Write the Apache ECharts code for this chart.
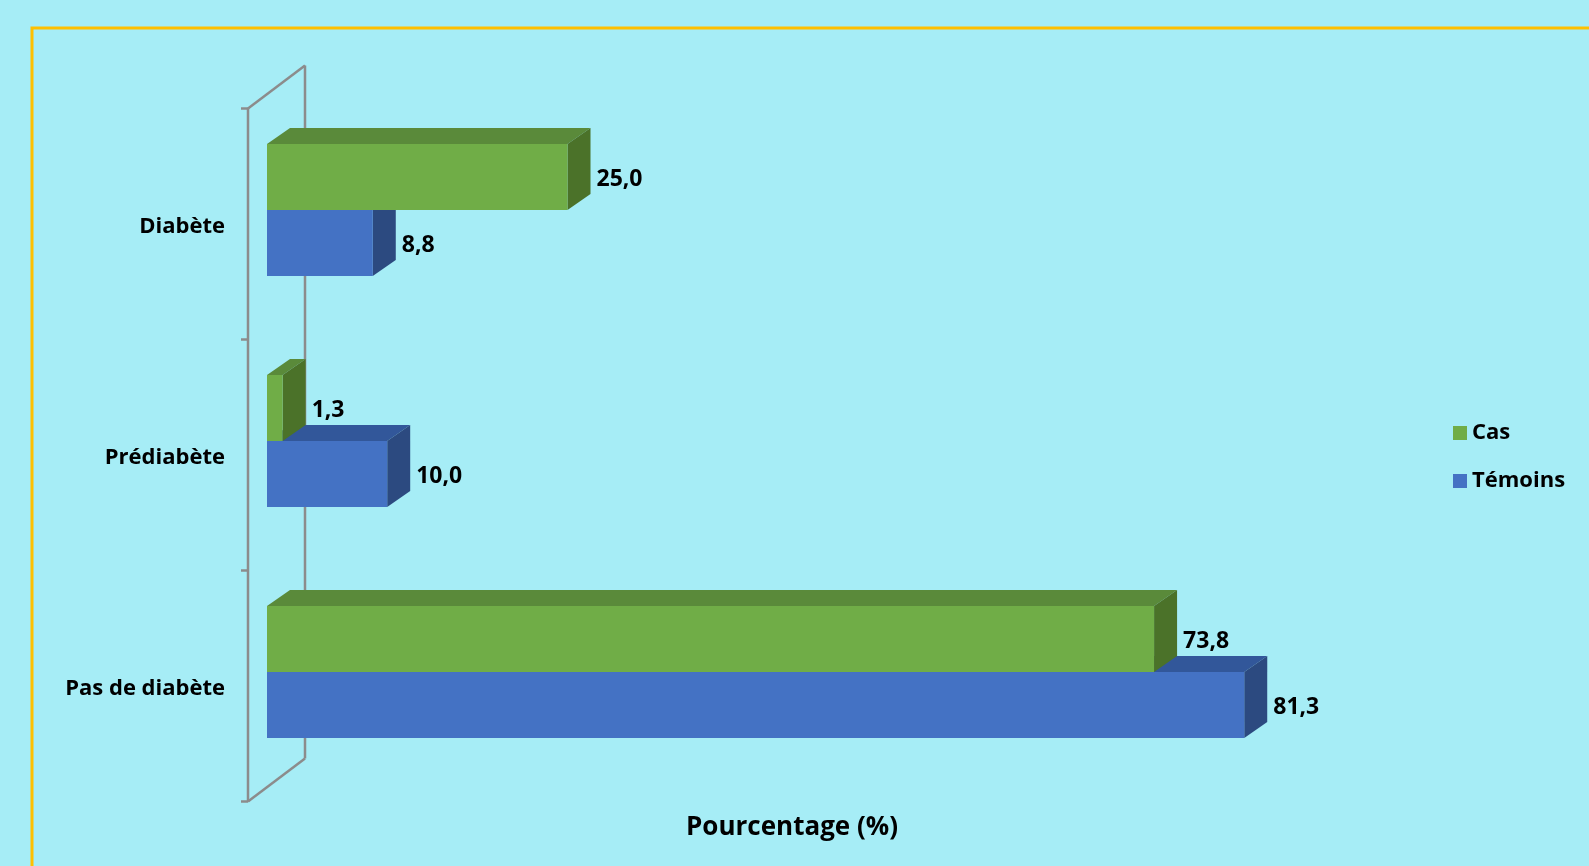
<!DOCTYPE html>
<html>
<head>
<meta charset="utf-8">
<script src="https://cdn.jsdelivr.net/npm/echarts@6/dist/echarts.min.js"></script>
<style>
html,body{margin:0;padding:0;background:#A6EDF6;}
#chart{width:1589px;height:866px;}
</style>
</head>
<body>
<div id="chart"></div>
<script>
var categories = ['Diabète', 'Prédiabète', 'Pas de diabète'];
var seriesNames = ['Cas', 'Témoins'];
var casValues = [25.0, 1.3, 73.8];
var temoinsValues = [8.8, 10.0, 81.3];
var axisTitle = 'Pourcentage (%)';

var FONT = '"Open Sans", "Noto Sans", sans-serif';
var DX = 23, DY = -16;

function fmt(v) { return v.toFixed(1).replace('.', ','); }

function barRenderer(side, front, top, right) {
  return function (params, api) {
    var v = api.value(0), ci = api.value(1);
    var p0 = api.coord([0, ci]);
    var p1 = api.coord([v, ci]);
    var band = api.size([0, 1])[1];
    var h = band * 0.286;
    var yTop = side < 0 ? p0[1] - h : p0[1];
    var x0 = p0[0], x1 = p1[0];
    return {
      type: 'group',
      children: [
        { type: 'polygon', shape: { points: [[x0, yTop], [x1, yTop], [x1 + DX, yTop + DY], [x0 + DX, yTop + DY]] }, style: { fill: top } },
        { type: 'polygon', shape: { points: [[x1, yTop], [x1 + DX, yTop + DY], [x1 + DX, yTop + h + DY], [x1, yTop + h]] }, style: { fill: right } },
        { type: 'rect', shape: { x: x0, y: yTop, width: x1 - x0, height: h }, style: { fill: front } },
        { type: 'text', style: { text: fmt(v), x: x1 + 29, y: yTop + h / 2 + 2, textAlign: 'left', textVerticalAlign: 'middle', font: 'bold 23px ' + FONT, fill: '#000' } }
      ]
    };
  };
}

function wallRenderer(params, api) {
  var p = api.coord([0, 0]);
  var band = api.size([0, 1])[1];
  var top = p[1] - band / 2;
  var n = categories.length;
  var fx = p[0] - 19, fy = 14;
  var bx = p[0] + 38, by = -29;
  var stroke = { stroke: '#8C8C8C', lineWidth: 2.5, fill: null };
  var bottom = top + n * band;
  var children = [
    { type: 'line', shape: { x1: fx, y1: top + fy, x2: fx, y2: bottom + fy }, style: stroke },
    { type: 'line', shape: { x1: bx, y1: top + by, x2: bx, y2: bottom + by }, style: stroke },
    { type: 'line', shape: { x1: fx, y1: top + fy, x2: bx, y2: top + by }, style: stroke },
    { type: 'line', shape: { x1: fx, y1: bottom + fy, x2: bx, y2: bottom + by }, style: stroke }
  ];
  for (var i = 0; i <= n; i++) {
    var y = top + i * band + fy;
    children.push({ type: 'line', shape: { x1: fx - 7, y1: y, x2: fx, y2: y }, style: stroke });
  }
  return { type: 'group', children: children };
}

var chart = echarts.init(document.getElementById('chart'));
chart.setOption({
  backgroundColor: '#A6EDF6',
  animation: false,
  grid: { left: 267, right: 120, top: 94.5, bottom: 78.5 },
  xAxis: { type: 'value', min: 0, max: 100, show: false },
  yAxis: {
    type: 'category', data: categories, inverse: true,
    axisLine: { show: false }, axisTick: { show: false }, splitLine: { show: false },
    axisLabel: {
      margin: 42, color: '#000', fontSize: 22, fontWeight: 'bold', fontFamily: FONT, lineHeight: 33,
      formatter: function (v) { return '\n' + v; }
    }
  },
  legend: {
    orient: 'vertical', left: 1448, top: 417, data: seriesNames,
    icon: 'rect', itemWidth: 14, itemHeight: 14, itemGap: 26,
    textStyle: { color: '#000', fontSize: 22, fontWeight: 'bold', fontFamily: FONT, lineHeight: 22 }
  },
  graphic: [
    { type: 'rect', shape: { x: 32, y: 28, width: 1700, height: 1000 }, style: { fill: null, stroke: '#FFC000', lineWidth: 3 }, silent: true },
    { type: 'text', x: 792, y: 828, style: { text: axisTitle, textAlign: 'center', textVerticalAlign: 'middle', font: 'bold 26px ' + FONT, fill: '#000' } }
  ],
  series: [
    { type: 'custom', name: 'wall', renderItem: wallRenderer, data: [[0, 0]], silent: true, z: 1 },
    { type: 'custom', name: 'Témoins', itemStyle: { color: '#4472C4' }, renderItem: barRenderer(1, '#4472C4', '#32579A', '#2C4A80'),
      data: temoinsValues.map(function (v, i) { return [v, i]; }), z: 2 },
    { type: 'custom', name: 'Cas', itemStyle: { color: '#70AD47' }, renderItem: barRenderer(-1, '#70AD47', '#5A8A3A', '#4B7229'),
      data: casValues.map(function (v, i) { return [v, i]; }), z: 3 }
  ]
});
</script>
</body>
</html>
